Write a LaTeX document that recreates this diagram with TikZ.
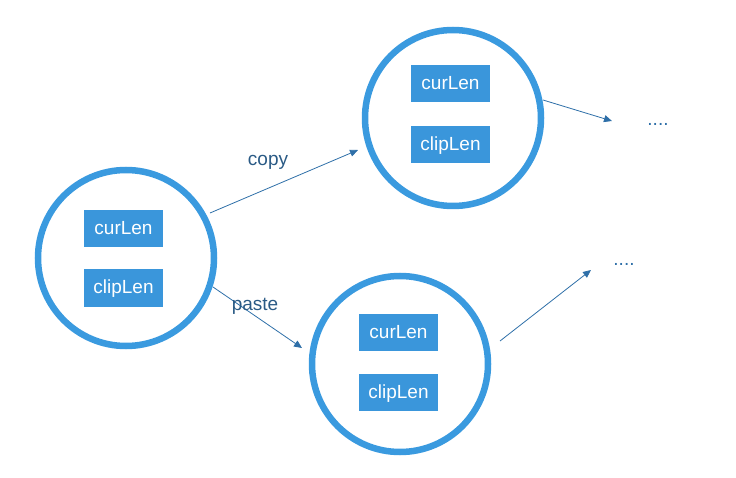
\documentclass[tikz,border=0pt]{standalone}
\usepackage{fontspec}
\setmainfont{Liberation Sans}
\usetikzlibrary{arrows.meta}
\definecolor{ring}{HTML}{3A9ADF}
\definecolor{boxc}{HTML}{3A96DB}
\definecolor{arr}{HTML}{2E6FA8}
\definecolor{lbl}{HTML}{2A5A85}
\tikzset{
  ringnode/.style={circle, draw=ring, line width=6.5pt, minimum size=176pt, inner sep=0pt},
  valbox/.style={rectangle, fill=boxc, text=white, minimum width=79pt, minimum height=37pt, inner sep=0pt, text height=14pt, text depth=2pt, font=\fontsize{19}{21}\selectfont},
  link/.style={draw=arr, line width=0.8pt, -{Triangle[length=8pt,width=7pt]}},
  lbltext/.style={text=lbl, font=\fontsize{19}{21}\selectfont, inner sep=0pt},
  dots/.style={text=arr, font=\fontsize{19}{21}\selectfont, inner sep=0pt}
}
\begin{document}
\begin{tikzpicture}[x=1pt,y=-1pt]
\useasboundingbox (0,0) rectangle (736,478);
% circles
\node[ringnode] (c1) at (126,258) {};
\node[ringnode] (c2) at (453,118) {};
\node[ringnode] (c3) at (400,364) {};
% boxes
\node[valbox] (c1a) at (123.5,228.5) {curLen};
\node[valbox] (c1b) at (123.5,288) {clipLen};
\node[valbox] (c2a) at (450.5,83.5) {curLen};
\node[valbox] (c2b) at (450.5,144.5) {clipLen};
\node[valbox] (c3a) at (398.5,332) {curLen};
\node[valbox] (c3b) at (398.5,392.5) {clipLen};
% end points
\coordinate (p1) at (210,213);
\coordinate (q1) at (358,150);
\coordinate (p2) at (213,287);
\coordinate (q2) at (302,348);
\coordinate (p3) at (543,100);
\coordinate (q3) at (612,121);
\coordinate (p4) at (500,341);
\coordinate (q4) at (591,270);
\draw[link] (p1) -- (q1);
\draw[link] (p2) -- (q2);
\draw[link] (p3) -- (q3);
\draw[link] (p4) -- (q4);
% labels
\node[lbltext] (lcopy) at (268,162) {copy};
\node[lbltext] (lpaste) at (255,306) {paste};
\node[dots] (d1) at (658,124) {....};
\node[dots] (d2) at (624,264) {....};
\end{tikzpicture}
\end{document}
